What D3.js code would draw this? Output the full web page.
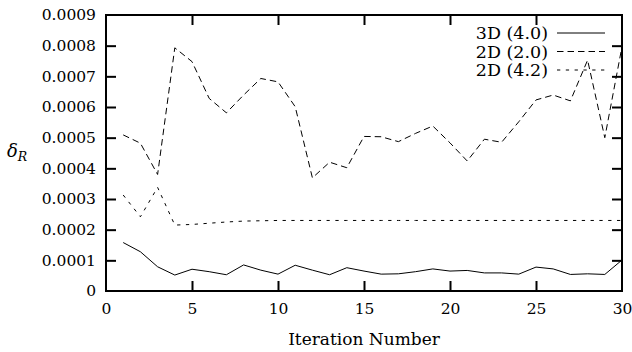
<!DOCTYPE html>
<html>
<head>
<meta charset="utf-8">
<script src="https://cdn.jsdelivr.net/npm/d3@7"></script>
<style>
  body { margin: 0; background: #fff; }
  svg { display: block; }
  text { font-family: "DejaVu Serif", serif; fill: #000; }
</style>
</head>
<body>
<div class="chart"></div>
<script>
const iterations = d3.range(1, 31);

const solid3d = [0.000158, 0.000128, 0.000079, 0.000052, 0.000071, 0.000063, 0.000053, 0.000085, 0.000068, 0.000055,
	0.000084, 0.000068, 0.000053, 0.000076, 0.000065, 0.000055, 0.000056, 0.000063, 0.000072, 0.000065,
	0.000067, 0.000059, 0.000059, 0.000055, 0.000078, 0.000072, 0.000054, 0.000056, 0.000054, 0.000101];

const dashed2d = [0.000509, 0.000482, 0.000380, 0.000793, 0.000748, 0.000628, 0.000581, 0.000639, 0.000693, 0.000682,
	0.000601, 0.000369, 0.000420, 0.000402, 0.000504, 0.000503, 0.000487, 0.000514, 0.000538, 0.000483,
	0.000424, 0.000495, 0.000485, 0.000552, 0.000623, 0.000639, 0.000620, 0.000753, 0.000500, 0.000797];

const dotted2d = [0.000313, 0.000242, 0.000338, 0.000215, 0.000217, 0.000221, 0.000225, 0.000228, 0.000229, 0.00023,
	0.00023, 0.00023, 0.00023, 0.00023, 0.00023, 0.00023, 0.00023, 0.00023, 0.00023, 0.00023,
	0.00023, 0.00023, 0.00023, 0.00023, 0.00023, 0.00023, 0.00023, 0.00023, 0.00023, 0.00023];

const seriesNames = ['3D (4.0)', '2D (2.0)', '2D (4.2)'];
const xTicks = [0, 5, 10, 15, 20, 25, 30];
const yTicks = [0, 0.0001, 0.0002, 0.0003, 0.0004, 0.0005, 0.0006, 0.0007, 0.0008, 0.0009];
const yTickLabels = ['0', '0.0001', '0.0002', '0.0003', '0.0004', '0.0005', '0.0006', '0.0007', '0.0008', '0.0009'];

const margin = ({top: 15, right: 10, bottom: 61, left: 106});
const width = 632 - margin.left - margin.right;
const height = 352 - margin.top - margin.bottom;

const root = d3.select('.chart').append('svg')
	.attr('width', 632)
	.attr('height', 352);

const svg = root.append('g')
	.attr('transform', `translate(${margin.left},${margin.top})`);

const xScale = d3.scaleLinear().domain([0, 30]).range([0, width]);
const yScale = d3.scaleLinear().domain([0, 0.0009]).range([height, 0]);

// axes, ticks pointing inward on all four sides
const xAxis = d3.axisBottom(xScale).tickValues(xTicks).tickSizeInner(-10).tickSizeOuter(0).tickPadding(12);
const yAxis = d3.axisLeft(yScale).tickValues(yTicks).tickSizeInner(-10).tickSizeOuter(0).tickPadding(10)
	.tickFormat((d, i) => yTickLabels[i]);
const xTop = d3.axisTop(xScale).tickValues(xTicks.slice(1, -1)).tickSizeInner(-10).tickSizeOuter(0).tickFormat('');
const yRight = d3.axisRight(yScale).tickValues(yTicks.slice(1, -1)).tickSizeInner(-10).tickSizeOuter(0).tickFormat('');

function styleAxis(g) {
	g.select('.domain').remove();
	g.selectAll('.tick line').attr('stroke', '#000').attr('stroke-width', 2);
	g.selectAll('.tick text').attr('font-size', 15.5).attr('font-family', '"DejaVu Serif", serif').attr('fill', '#000');
}

svg.append('g').attr('class', 'axis x-axis')
	.attr('transform', `translate(0,${height})`)
	.call(xAxis).call(styleAxis);
svg.append('g').attr('class', 'axis y-axis').call(yAxis).call(styleAxis);
svg.append('g').attr('class', 'axis x-top').call(xTop).call(styleAxis);
svg.append('g').attr('class', 'axis y-right')
	.attr('transform', `translate(${width},0)`)
	.call(yRight).call(styleAxis);

svg.select('.y-axis').selectAll('.tick line').filter(d => d === 0 || d === 0.0009).remove();
svg.select('.x-axis').selectAll('.tick line').filter(d => d === 0 || d === 30).remove();

// series lines
const series = [
	{values: solid3d, dash: null},
	{values: dashed2d, dash: '6.5,4'},
	{values: dotted2d, dash: '3.3,5.5'}
];

const line = d3.line()
	.x((d, i) => xScale(iterations[i]))
	.y(d => yScale(d));

svg.selectAll('.series')
	.data(series)
	.enter()
	.append('path')
	.attr('class', 'series')
	.attr('d', d => line(d.values))
	.attr('fill', 'none')
	.attr('stroke', '#000')
	.attr('stroke-width', 1)
	.attr('stroke-dasharray', d => d.dash);

// frame
svg.append('rect')
	.attr('width', width)
	.attr('height', height)
	.attr('fill', 'none')
	.attr('stroke', '#000')
	.attr('stroke-width', 2);

// legend
const legend = svg.append('g')
	.attr('transform', `translate(${442},${18})`);

seriesNames.forEach((name, i) => {
	const row = legend.append('g').attr('transform', `translate(0,${i * 18.5})`);
	row.append('text')
		.attr('x', 0)
		.attr('y', 6)
		.attr('text-anchor', 'end')
		.attr('font-size', 17.5)
		.text(name);
	row.append('line')
		.attr('x1', 9)
		.attr('x2', 57)
		.attr('stroke', '#000')
		.attr('stroke-width', 1)
		.attr('stroke-dasharray', series[i].dash);
});

// axis titles
root.append('text')
	.attr('x', margin.left + width / 2)
	.attr('y', 345)
	.attr('text-anchor', 'middle')
	.attr('font-size', 17)
	.text('Iteration Number');

const yTitle = root.append('text')
	.attr('x', 7)
	.attr('y', 157)
	.attr('font-size', 18)
	.attr('font-style', 'italic');
yTitle.append('tspan').text('δ');
yTitle.append('tspan').attr('dy', 4).attr('font-size', 12.5).text('R');
</script>
</body>
</html>
